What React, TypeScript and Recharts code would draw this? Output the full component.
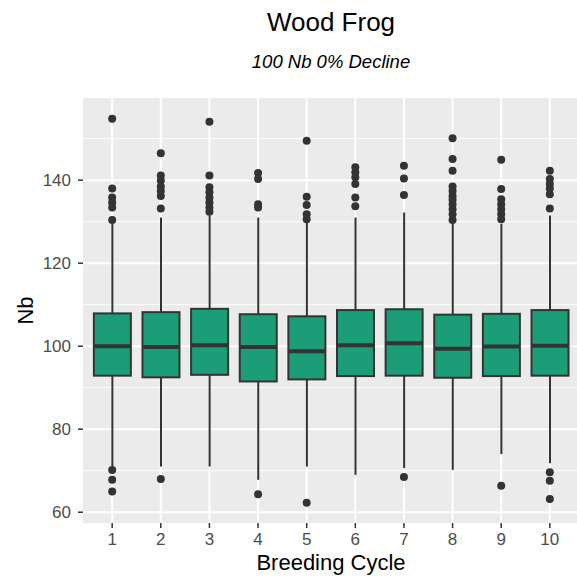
import React from 'react';
import { ComposedChart, Bar, Scatter, XAxis, YAxis, CartesianGrid } from 'recharts';

// Boxplot stats per breeding cycle
const cycles = [1, 2, 3, 4, 5, 6, 7, 8, 9, 10];
const lowerWhisker = [71.0, 71.0, 71.0, 67.8, 71.0, 69.0, 70.6, 70.2, 74.0, 71.8];
const q1 = [92.9, 92.5, 93.1, 91.5, 92.0, 92.8, 92.9, 92.4, 92.8, 92.9];
const median = [100.0, 99.8, 100.2, 99.8, 98.8, 100.2, 100.7, 99.4, 99.9, 100.1];
const q3 = [107.9, 108.2, 109.0, 107.7, 107.2, 108.7, 108.9, 107.6, 107.8, 108.7];
const upperWhisker = [129.8, 131.0, 131.5, 131.0, 129.8, 131.0, 132.2, 129.6, 129.5, 131.5];

const outliers: number[][] = [
  [154.8, 138.0, 135.8, 134.6, 133.4, 130.4, 70.2, 67.8, 65.0],
  [146.5, 141.1, 139.9, 138.5, 137.4, 136.2, 133.2, 68.0],
  [154.1, 141.1, 138.3, 137.1, 135.8, 134.6, 133.4, 132.4],
  [141.7, 140.3, 134.2, 133.4, 64.3],
  [149.5, 136.0, 134.0, 131.8, 130.6, 62.3],
  [143.1, 141.9, 140.7, 139.1, 135.8, 133.7],
  [143.5, 140.4, 136.4, 68.5],
  [150.1, 145.1, 142.3, 138.5, 137.4, 136.2, 135.3, 134.2, 133.0, 131.8, 130.4],
  [144.9, 137.9, 135.4, 134.2, 133.0, 131.8, 130.6, 66.4],
  [142.3, 140.3, 139.1, 138.0, 136.6, 133.2, 69.6, 67.6, 63.2],
];

const yTicks = [60, 80, 100, 120, 140];
const yMinor = [70, 90, 110, 130, 150];

const boxData = cycles.map((c, i) => ({
  cycle: c,
  range: [lowerWhisker[i], upperWhisker[i]],
  lo: lowerWhisker[i],
  q1: q1[i],
  med: median[i],
  q3: q3[i],
  hi: upperWhisker[i],
}));

const outlierPoints = cycles.flatMap((c, i) => outliers[i].map((v) => ({ cycle: c, value: v })));

const FONT = '"Liberation Sans", Arial, Helvetica, sans-serif';
const FILL = '#1B9E77';
const LINE = '#333333';

const BoxShape = (props: any) => {
  const { x, y, width, height, payload } = props;
  const top = Math.min(y, y + height);
  const bot = Math.max(y, y + height);
  const k = (bot - top) / (payload.hi - payload.lo);
  const py = (v: number) => top + (payload.hi - v) * k;
  const cx = x + width / 2;
  return (
    <g>
      <line x1={cx} x2={cx} y1={py(payload.hi)} y2={py(payload.q3)} stroke={LINE} strokeWidth={2} />
      <line x1={cx} x2={cx} y1={py(payload.q1)} y2={py(payload.lo)} stroke={LINE} strokeWidth={2} />
      <rect
        x={x}
        y={py(payload.q3)}
        width={width}
        height={py(payload.q1) - py(payload.q3)}
        fill={FILL}
        stroke={LINE}
        strokeWidth={2}
      />
      <line x1={x} x2={x + width} y1={py(payload.med)} y2={py(payload.med)} stroke={LINE} strokeWidth={4} />
    </g>
  );
};

const Dot = (props: any) => <circle cx={props.cx} cy={props.cy} r={4} fill={LINE} />;

export default function App() {
  return (
    <div style={{ position: 'absolute', left: 0, top: 0, width: 577, height: 579, overflow: 'hidden', background: '#fff' }}>
      <ComposedChart
        width={580}
        height={579}
        data={boxData}
        margin={{ top: 98, right: 1, bottom: 0, left: 0 }}
      >
        <CartesianGrid
          fill="#EBEBEB"
          fillOpacity={1}
          stroke="#ffffff"
          strokeWidth={1}
          vertical={false}
          horizontalValues={yMinor}
        />
        <CartesianGrid stroke="#ffffff" strokeWidth={2} horizontalValues={yTicks} verticalValues={cycles} />
        <XAxis
          type="number"
          dataKey="cycle"
          domain={[0.4, 10.6]}
          ticks={cycles}
          allowDataOverflow
          height={56}
          axisLine={false}
          tickSize={5}
          tickMargin={5}
          tickLine={{ stroke: LINE, strokeWidth: 1.5 }}
          tick={{ fill: '#4D4D4D', fontSize: 17, fontFamily: FONT }}
        />
        <YAxis
          type="number"
          domain={[57.4, 159.8]}
          ticks={yTicks}
          allowDataOverflow
          width={83}
          axisLine={false}
          tickSize={5}
          tickMargin={7}
          tickLine={{ stroke: LINE, strokeWidth: 1.5 }}
          tick={{ fill: '#4D4D4D', fontSize: 17, fontFamily: FONT }}
        />
        <Bar dataKey="range" barSize={37} shape={BoxShape} isAnimationActive={false} />
        <Scatter data={outlierPoints} dataKey="value" shape={Dot} isAnimationActive={false} />
      </ComposedChart>
      <svg
        width={577}
        height={579}
        style={{ position: 'absolute', left: 0, top: 0, pointerEvents: 'none' }}
        fontFamily={FONT}
      >
        <text x={331} y={31} textAnchor="middle" fontSize={26} fill="#000">
          Wood Frog
        </text>
        <text x={331} y={68} textAnchor="middle" fontSize={18.5} fontStyle="italic" fill="#000">
          100 Nb 0% Decline
        </text>
        <text x={331} y={570} textAnchor="middle" fontSize={22} fill="#000">
          Breeding Cycle
        </text>
        <text transform="translate(33,310.5) rotate(-90)" textAnchor="middle" fontSize={22} fill="#000">
          Nb
        </text>
      </svg>
    </div>
  );
}
